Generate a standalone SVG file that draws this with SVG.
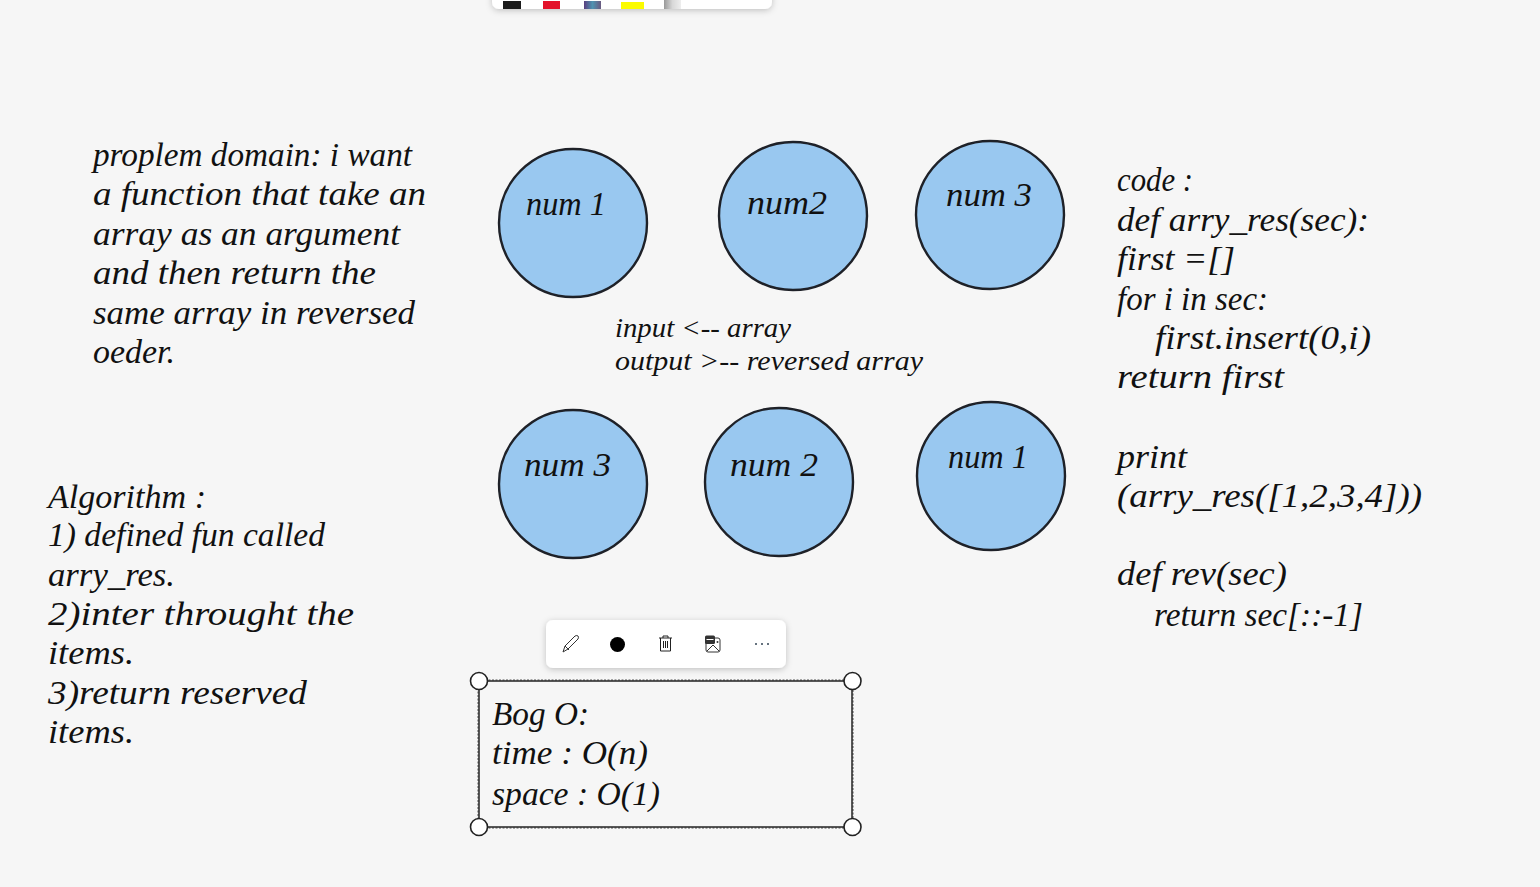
<svg xmlns="http://www.w3.org/2000/svg" width="1540" height="887" viewBox="0 0 1540 887">
<style>
text{font-family:"Liberation Serif","DejaVu Serif",serif;fill:#111;font-style:italic}
.t{font-size:33px}
.s{font-size:27px}
.n{fill:#99c8f0;stroke:#1e2128;stroke-width:2.4}
.h{fill:#fff;stroke:#222;stroke-width:1.6}
.tb{fill:#fff;filter:url(#sh)}
</style>
<defs><filter id="sh" x="-10%" y="-30%" width="120%" height="170%"><feDropShadow dx="0" dy="1.5" stdDeviation="3" flood-color="#000" flood-opacity=".22"/></filter>
<linearGradient id="rb"><stop offset="0" stop-color="#5a3f80"/><stop offset=".5" stop-color="#4f93b0"/><stop offset="1" stop-color="#6a5a80"/></linearGradient>
<linearGradient id="si"><stop offset="0" stop-color="#999"/><stop offset=".5" stop-color="#d8d8d8"/><stop offset="1" stop-color="#eee"/></linearGradient>
</defs>
<rect width="1540" height="887" fill="#f6f6f6"/>
<g id="palette">
<rect class="tb" x="492" y="-20" width="280" height="29" rx="7"/>
<rect x="503" y="1" width="18" height="8" fill="#1c1c1c"/>
<rect x="543" y="1" width="17" height="8" fill="#e3122a"/>
<rect x="584" y="1" width="17" height="8" fill="url(#rb)"/>
<rect x="621" y="2" width="23" height="7" fill="#fbfb00"/>
<rect x="664" y="0" width="17" height="9" fill="url(#si)"/>
</g>
<g id="node-top-1"><circle class="n" cx="573" cy="223" r="74"/><text class="t" x="526" y="215" textLength="80" lengthAdjust="spacingAndGlyphs">num 1</text></g>
<g id="node-top-2"><circle class="n" cx="793" cy="216" r="74"/><text class="t" x="747" y="214" textLength="80" lengthAdjust="spacingAndGlyphs">num2</text></g>
<g id="node-top-3"><circle class="n" cx="990" cy="215" r="74"/><text class="t" x="946" y="206" textLength="86" lengthAdjust="spacingAndGlyphs">num 3</text></g>
<g id="node-bottom-3"><circle class="n" cx="573" cy="484" r="74"/><text class="t" x="524" y="476" textLength="87" lengthAdjust="spacingAndGlyphs">num 3</text></g>
<g id="node-bottom-2"><circle class="n" cx="779" cy="482" r="74"/><text class="t" x="730" y="476" textLength="88" lengthAdjust="spacingAndGlyphs">num 2</text></g>
<g id="node-bottom-1"><circle class="n" cx="991" cy="476" r="74"/><text class="t" x="948" y="468" textLength="80" lengthAdjust="spacingAndGlyphs">num 1</text></g>
<g id="problem">
<text class="t" x="93" y="166" textLength="319" lengthAdjust="spacingAndGlyphs">proplem domain: i want</text>
<text class="t" x="93" y="205" textLength="333" lengthAdjust="spacingAndGlyphs">a function that take an</text>
<text class="t" x="93" y="245" textLength="307" lengthAdjust="spacingAndGlyphs">array as an argument</text>
<text class="t" x="93" y="284" textLength="283" lengthAdjust="spacingAndGlyphs">and then return the</text>
<text class="t" x="93" y="324" textLength="322" lengthAdjust="spacingAndGlyphs">same array in reversed</text>
<text class="t" x="93" y="363" textLength="82" lengthAdjust="spacingAndGlyphs">oeder.</text>
</g>
<g id="algorithm">
<text class="t" x="48" y="508" textLength="158" lengthAdjust="spacingAndGlyphs">Algorithm :</text>
<text class="t" x="48" y="546" textLength="277" lengthAdjust="spacingAndGlyphs">1) defined fun called</text>
<text class="t" x="48" y="586" textLength="127" lengthAdjust="spacingAndGlyphs">arry_res.</text>
<text class="t" x="48" y="625" textLength="306" lengthAdjust="spacingAndGlyphs">2)inter throught the</text>
<text class="t" x="48" y="664" textLength="86" lengthAdjust="spacingAndGlyphs">items.</text>
<text class="t" x="48" y="704" textLength="259" lengthAdjust="spacingAndGlyphs">3)return reserved</text>
<text class="t" x="48" y="743" textLength="86" lengthAdjust="spacingAndGlyphs">items.</text>
</g>
<g id="io">
<text class="s" x="615" y="337" textLength="176" lengthAdjust="spacingAndGlyphs">input &lt;-- array</text>
<text class="s" x="615" y="370" textLength="308" lengthAdjust="spacingAndGlyphs">output &gt;-- reversed array</text>
</g>
<g id="code">
<text class="t" x="1117" y="191" textLength="76" lengthAdjust="spacingAndGlyphs">code :</text>
<text class="t" x="1117" y="231" textLength="252" lengthAdjust="spacingAndGlyphs">def arry_res(sec):</text>
<text class="t" x="1117" y="270" textLength="118" lengthAdjust="spacingAndGlyphs">first =[]</text>
<text class="t" x="1117" y="310" textLength="151" lengthAdjust="spacingAndGlyphs">for i in sec:</text>
<text class="t" x="1155" y="349" textLength="216" lengthAdjust="spacingAndGlyphs">first.insert(0,i)</text>
<text class="t" x="1117" y="388" textLength="167" lengthAdjust="spacingAndGlyphs">return first</text>
<text class="t" x="1117" y="468" textLength="70" lengthAdjust="spacingAndGlyphs">print</text>
<text class="t" x="1117" y="507" textLength="305" lengthAdjust="spacingAndGlyphs">(arry_res([1,2,3,4]))</text>
<text class="t" x="1117" y="585" textLength="170" lengthAdjust="spacingAndGlyphs">def rev(sec)</text>
<text class="t" x="1154" y="626" textLength="209" lengthAdjust="spacingAndGlyphs">return sec[::-1]</text>
</g>
<g id="toolbar">
<rect class="tb" x="546" y="620" width="240" height="48" rx="7"/>
<path d="M563 652l2-6 10-10q2-1 3 0t0 3l-10 10zM565 646l4 4" fill="none" stroke="#333" stroke-width="1"/>
<circle cx="617.500" cy="644.500" r="7.500" fill="#000"/>
<path d="M659 638h13M663 638v-2h5v2M660.500 638v13h10v-13M663.500 641v7M665.500 641v7M667.500 641v7" fill="none" stroke="#222" stroke-width="1"/>
<rect x="706" y="638" width="14" height="14" rx="2" fill="#fff" stroke="#333"/>
<rect x="705" y="635.500" width="10" height="8.500" rx="1.500" fill="#333"/>
<path d="M706.500 639.500h7" stroke="#fff"/>
<circle cx="717.500" cy="642" r="1" fill="#333"/>
<path d="M707 651l6-6 6 6" fill="none" stroke="#333"/>
<circle cx="756" cy="644" r="1" fill="#345"/><circle cx="762" cy="644" r="1" fill="#345"/><circle cx="768" cy="644" r="1" fill="#345"/>
</g>
<g id="big-o">
<rect x="478" y="680" width="375" height="148" fill="none" stroke="#555" stroke-width="1" stroke-dasharray="2 1.500"/>
<rect x="479" y="681" width="373" height="146" fill="none" stroke="#222" stroke-width="1.500"/>
<text class="t" x="492" y="725" textLength="97" lengthAdjust="spacingAndGlyphs">Bog O:</text>
<text class="t" x="492" y="764" textLength="156" lengthAdjust="spacingAndGlyphs">time : O(n)</text>
<text class="t" x="492" y="805" textLength="168" lengthAdjust="spacingAndGlyphs">space : O(1)</text>
<circle class="h" cx="479" cy="681" r="8.500"/><circle class="h" cx="852.500" cy="681" r="8.500"/><circle class="h" cx="479" cy="827" r="8.500"/><circle class="h" cx="852.500" cy="827" r="8.500"/>
</g>
</svg>
